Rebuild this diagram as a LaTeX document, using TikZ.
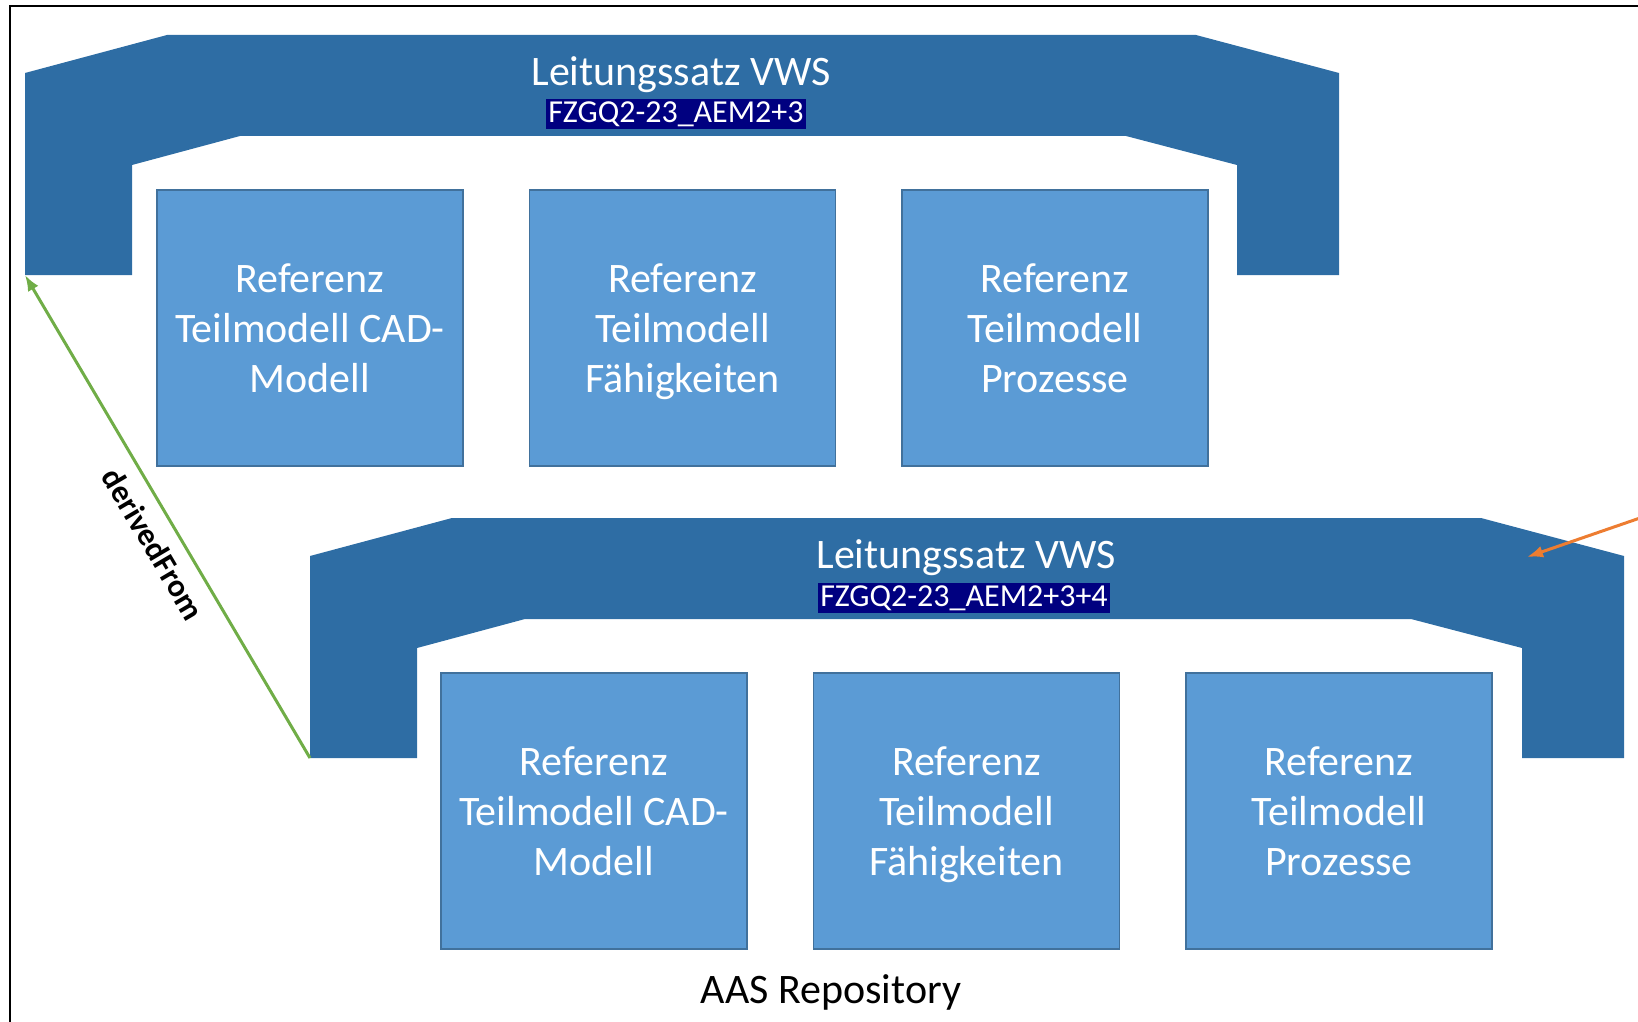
\documentclass[tikz,border=0pt]{standalone}
\usepackage{fontspec}
\setmainfont{Carlito}
\usetikzlibrary{arrows.meta,positioning}
\definecolor{hdrblue}{HTML}{2E6DA4}
\definecolor{boxblue}{HTML}{5B9BD5}
\definecolor{boxedge}{HTML}{41719C}
\definecolor{derivgreen}{HTML}{70AD47}
\definecolor{linkorange}{HTML}{ED7D31}
\definecolor{idnavy}{HTML}{000080}
\tikzset{
  refbox/.style={draw=boxedge, line width=1.5pt, fill=boxblue, minimum width=306pt,
    minimum height=276pt, align=center, text=white, inner sep=0pt, text depth=0pt,
    font=\fontsize{42}{50}\selectfont},
  aastitle/.style={text=white, inner sep=0pt, font=\fontsize{42}{48}\selectfont},
  aasid/.style={fill=idnavy, text=white, inner sep=2pt, font=\fontsize{32}{36}\selectfont},
  hdr/.style={fill=hdrblue},
}

\begin{document}
\begin{tikzpicture}[x=1pt, y=-1pt, >={Latex[length=16pt,width=12pt]}, node distance=65pt]
  \useasboundingbox (0,0) rectangle (1638,1022);
  \draw[line width=2.5pt] (10,1022) -- (10,6) -- (1638,6);

  % Upper shell
  \fill[hdr] (25,73) -- (167,35) -- (1196,35) -- (1339,73) -- (1339,275) -- (1237,275)
    -- (1237,165) -- (1126,136) -- (240,136) -- (132,165) -- (132,275) -- (25,275) -- cycle;
  \coordinate (upcorner) at (25,275);
  \node[aastitle] (uptitle) at (681,75) {Leitungssatz VWS};
  \node[aasid] (upid) at (676,114) {FZGQ2-23\_AEM2+3};
  \node[refbox] (upcad) at (310,328) {Referenz\\Teilmodell CAD-\\Modell};
  \node[refbox, right=of upcad] (upskill) {Referenz\\Teilmodell\\Fähigkeiten};
  \node[refbox, right=of upskill] (upproc) {Referenz\\Teilmodell\\Prozesse};

  % Lower shell
  \begin{scope}[shift={(285,483)}]
    \fill[hdr] (25,73) -- (167,35) -- (1196,35) -- (1339,73) -- (1339,275) -- (1237,275)
      -- (1237,165) -- (1126,136) -- (240,136) -- (132,165) -- (132,275) -- (25,275) -- cycle;
    \coordinate (lowcorner) at (25,275);
    \coordinate (lowtarget) at (1242,74);
    \node[aastitle] (lowtitle) at (681,75) {Leitungssatz VWS};
    \node[aasid] (lowid) at (679,115) {FZGQ2-23\_AEM2+3+4};
    \node[refbox] (lowcad) at (309,328) {Referenz\\Teilmodell CAD-\\Modell};
    \node[refbox, right=of lowcad] (lowskill) {Referenz\\Teilmodell\\Fähigkeiten};
    \node[refbox, right=of lowskill] (lowproc) {Referenz\\Teilmodell\\Prozesse};
  \end{scope}

  \node[inner sep=0pt, font=\fontsize{42}{46}\selectfont] (repo) at (831,992) {AAS Repository};

  % Links
  \coordinate (rightedge) at (1640,518);
  \draw[->, derivgreen, line width=3pt] (lowcorner) -- node[sloped, below=10pt, pos=0.47, text=black,
    font=\bfseries\fontsize{32}{36}\selectfont] {derivedFrom} (upcorner);
  \draw[->, linkorange, line width=3pt] (rightedge) -- (lowtarget);
\end{tikzpicture}
\end{document}
